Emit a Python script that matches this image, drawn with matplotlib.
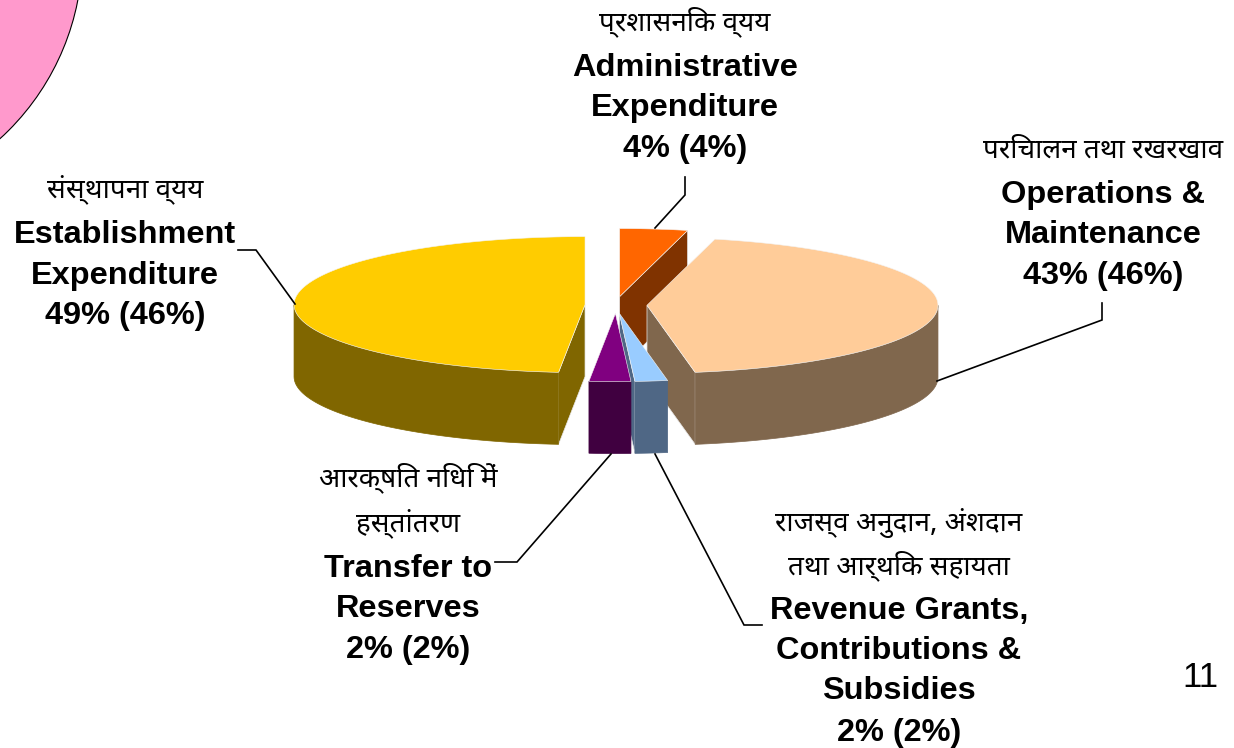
import numpy as np
import matplotlib
matplotlib.use('Agg')
import matplotlib.pyplot as plt
from matplotlib.patches import Polygon, Circle

shares = [3.75, 43.6, 1.8, 2.3, 48.55]
top_colors = ['#FF6600', '#FFCC99', '#99CCFF', '#800080', '#FFCC00']
side_colors = ['#803300', '#80674D', '#4F6785', '#400040', '#806600']

hi_font = ['Noto Sans Devanagari', 'Hind', 'Mukta', 'DejaVu Sans']
en_font = ['Liberation Sans', 'DejaVu Sans']

# (text, x, baseline y)
hindi_labels = [
    ('प्रशासनिक व्यय', 685, 30),
    ('परिचालन तथा रखरखाव', 1103, 157),
    ('संस्थापना व्यय', 125, 197),
    ('आरक्षित निधि में', 408, 486),
    ('हस्तांतरण', 408, 531),
    ('राजस्व अनुदान, अंशदान', 899, 531),
    ('तथा आर्थिक सहायता', 899, 574),
]
english_labels = [
    ('Administrative', 685, 76), ('Expenditure', 685, 116), ('4% (4%)', 685, 157),
    ('Operations &', 1103, 203), ('Maintenance', 1103, 243), ('43% (46%)', 1103, 284),
    ('Establishment', 125, 243), ('Expenditure', 125, 284), ('49% (46%)', 125, 324),
    ('Transfer to', 408, 577), ('Reserves', 408, 617), ('2% (2%)', 408, 658),
    ('Revenue Grants,', 899, 619), ('Contributions &', 899, 659),
    ('Subsidies', 899, 699), ('2% (2%)', 899, 741),
]
leaders = [
    [(685, 177), (685, 195), (655, 228)],
    [(1102, 303), (1102, 320), (937, 381)],
    [(238, 250), (256, 250), (295, 304)],
    [(495, 562), (517, 562), (611, 454)],
    [(655, 454), (744, 625), (762, 625)],
]

# pie geometry in picture pixels
cx, cy = 616, 305
rx, ry = 291, 68
depth = 72
explode_x, explode_y = 31, 8.5


def rim(x0, y0, t):
    # t in degrees, clockwise from the top
    t = np.radians(t)
    return x0 + rx * np.sin(t), y0 - ry * np.cos(t)


fig = plt.figure(figsize=(12.34, 7.48), dpi=100)
ax = fig.add_axes([0, 0, 1, 1])
ax.set_xlim(0, 1234)
ax.set_ylim(748, 0)
ax.axis('off')

ax.add_patch(Circle((-170, -48), 252.5, facecolor='#FF99CC', edgecolor='black', lw=0.8))

stops = np.concatenate([[0], np.cumsum(shares)]) * 3.6
slices = []
for i in range(len(shares)):
    slices.append((stops[i], stops[i + 1], top_colors[i], side_colors[i]))

# back to front: orange, peach, yellow, blue, purple
for i in [0, 1, 4, 2, 3]:
    a, b, top, side = slices[i]
    mid = np.radians((a + b) / 2)
    x0 = cx + explode_x * np.sin(mid)
    y0 = cy - explode_y * np.cos(mid)

    # cut faces that turn towards the viewer
    for t, visible in [(a, np.sin(np.radians(a)) < -1e-6), (b, np.sin(np.radians(b)) > 1e-6)]:
        if visible:
            px, py = rim(x0, y0, t)
            face = [(x0, y0), (px, py), (px, py + depth), (x0, y0 + depth)]
            ax.add_patch(Polygon(face, facecolor=side, edgecolor='#E8E8E8', lw=0.5))

    # outer wall, only the front half of the rim
    lo, hi = max(a, 90), min(b, 270)
    if hi > lo:
        ts = np.linspace(lo, hi, 60)
        px, py = rim(x0, y0, ts)
        wall = list(zip(px, py)) + list(zip(px[::-1], py[::-1] + depth))
        ax.add_patch(Polygon(wall, facecolor=side, edgecolor=side, lw=0.5))

    ts = np.linspace(a, b, 120)
    px, py = rim(x0, y0, ts)
    ax.add_patch(Polygon([(x0, y0)] + list(zip(px, py)), facecolor=top, edgecolor='#F4F4F4', lw=0.4))

for pts in leaders:
    xs, ys = zip(*pts)
    ax.plot(xs, ys, color='black', lw=1.2, solid_joinstyle='miter')

for text, x, y in hindi_labels:
    ax.text(x, y, text, fontsize=20, fontweight='medium', family=hi_font, ha='center', va='baseline', color='black')
for text, x, y in english_labels:
    ax.text(x, y, text, fontsize=23.4, fontweight='bold', family=en_font, ha='center', va='baseline')
ax.text(1200, 687, '11', fontsize=25, family=en_font, ha='center', va='baseline')

fig.savefig('out.png', dpi=100)
